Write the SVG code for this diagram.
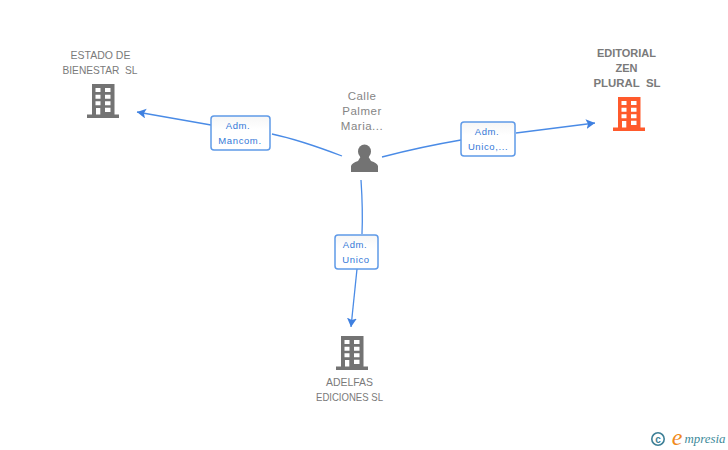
<svg xmlns="http://www.w3.org/2000/svg" width="728" height="450" viewBox="0 0 728 450">
<style>
text{font-family:"Liberation Sans",Arial,sans-serif;text-anchor:middle}
.n{font-size:10.5px;fill:#7a7a7a}
.b{font-size:11px;fill:#7a7a7a;font-weight:bold}
.p{font-size:11.5px;fill:#858585;letter-spacing:.5px}
.l{font-size:9.5px;fill:#3478d8;letter-spacing:.6px}
.c{fill:none;stroke:#4a8be6;stroke-width:1.3}
.box{fill:url(#g);stroke:#5f9ae8;stroke-width:1.5}
</style>
<defs>
<linearGradient id="g" x1="0" y1="0" x2="0" y2="1"><stop offset="0" stop-color="#f6f6f6"/><stop offset=".4" stop-color="#fff"/></linearGradient>
<marker id="a" markerUnits="userSpaceOnUse" markerWidth="11" markerHeight="12" refX="9" refY="5" orient="auto"><path d="M0 0L9 5L0 10L2 5Z" fill="#3f80e0"/></marker>
</defs>
<rect width="728" height="450" fill="#fff"/>
<g id="connectors">
<path class="c" d="M342 156Q300 140 272 134"/>
<path class="c" d="M211 125L137 112" marker-end="url(#a)"/>
<path class="c" d="M382 157Q420 147 461 140"/>
<path class="c" d="M516 133L595 123" marker-end="url(#a)"/>
<path class="c" d="M361 180Q363 210 362 234"/>
<path class="c" d="M357 269L351 327" marker-end="url(#a)"/>
</g>
<g id="n-estado">
<text class="n" x="100.500" y="59">ESTADO DE</text><text class="n" x="100" y="74" xml:space="preserve" textLength="75" lengthAdjust="spacingAndGlyphs">BIENESTAR  SL</text>
<path fill="#737373" d="M92 84H114.500V114.500H119V118H87V114.500H92Z"/>
<path fill="#fff" d="M95.500 88h5v4h-5zM105 88h5.500v4h-5.500zM95.500 94.700h5v4h-5zM105 94.700h5.500v4h-5.500zM95.500 101.300h5v4h-5zM105 101.300h5.500v4h-5.500zM96 108h4.300v6.500h-4.300zM105 107.700h5.500v4.300h-5.500z"/>
</g>
<g id="n-editorial">
<text class="b" x="626.500" y="57">EDITORIAL</text><text class="b" x="626.500" y="72">ZEN</text><text class="b" x="627" y="87" xml:space="preserve" textLength="67" lengthAdjust="spacingAndGlyphs">PLURAL  SL</text>
<path fill="#ff5a2c" d="M618 97H640.500V127.500H645V131H613V127.500H618Z"/>
<path fill="#fff" d="M621.500 101h5v4h-5zM631 101h5.500v4h-5.500zM621.500 107.700h5v4h-5zM631 107.700h5.500v4h-5.500zM621.500 114.300h5v4h-5zM631 114.300h5.500v4h-5.500zM622 121h4.300v6.500h-4.300zM631 120.700h5.500v4.300h-5.500z"/>
</g>
<g id="n-adelfas">
<path fill="#737373" d="M341 336H363.500V366.500H368V370H336V366.500H341Z"/>
<path fill="#fff" d="M344.500 340h5v4h-5zM354 340h5.500v4h-5.500zM344.500 346.700h5v4h-5zM354 346.700h5.500v4h-5.500zM344.500 353.300h5v4h-5zM354 353.300h5.500v4h-5.500zM345 360h4.300v6.500h-4.300zM354 359.700h5.500v4.300h-5.500z"/>
<text class="n" x="349.500" y="386" textLength="47" lengthAdjust="spacingAndGlyphs">ADELFAS</text><text class="n" x="349.500" y="401" textLength="67" lengthAdjust="spacingAndGlyphs">EDICIONES SL</text>
</g>
<g id="n-calle">
<text class="p" x="362" y="100">Calle</text><text class="p" x="362" y="115">Palmer</text><text class="p" x="362" y="130">Maria...</text>
<ellipse cx="364.500" cy="151.500" rx="6.500" ry="7" fill="#737373"/>
<path fill="#737373" d="M351 172V166Q352 163 358 161L361 156H368L371 161Q377 163 378 166V172Z"/>
</g>
<g id="e1"><rect class="box" x="211" y="116" width="59" height="34" rx="3"/><text class="l" x="238" y="129">Adm.</text><text class="l" x="240" y="144">Mancom.</text></g>
<g id="e2"><rect class="box" x="461" y="122" width="54" height="34" rx="3"/><text class="l" x="487" y="135">Adm.</text><text class="l" x="488" y="150">Unico,...</text></g>
<g id="e3"><rect class="box" x="335" y="235" width="43" height="34" rx="3"/><text class="l" x="355" y="248">Adm.</text><text class="l" x="356" y="263">Unico</text></g>
<g id="logo">
<circle cx="658" cy="439" r="6.200" fill="none" stroke="#3d7f96" stroke-width="1.600"/>
<text x="658" y="442.500" style="font-size:10px;font-weight:bold;fill:#3d7f96">c</text>
<text x="677" y="445" style="font-size:24px;fill:#f08a1c;font-style:italic;font-family:'Liberation Serif',serif">e</text>
<text x="705" y="443" textLength="41" lengthAdjust="spacingAndGlyphs" style="font-size:12.500px;fill:#3d8a9a;font-style:italic;font-family:'Liberation Serif',serif">mpresia</text>
</g>
</svg>
